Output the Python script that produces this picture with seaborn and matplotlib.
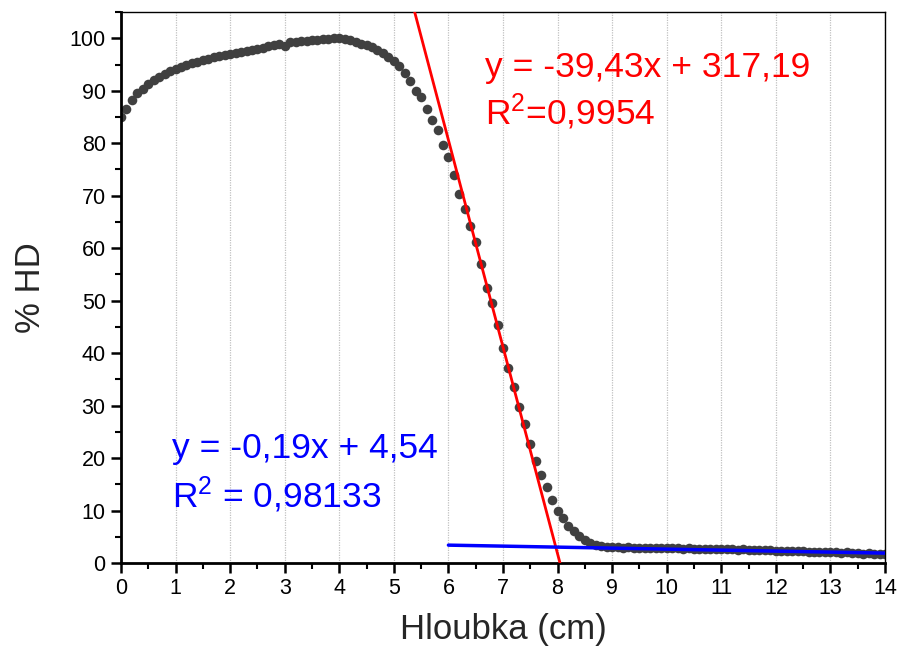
import numpy as np
import pandas as pd
import matplotlib
matplotlib.use("Agg")
import matplotlib.pyplot as plt
from matplotlib.ticker import MultipleLocator
import seaborn as sns

# ---- data ----
depth_cm = np.round(np.linspace(0, 14, 141), 1)
hd_percent = [
    85.0, 86.5, 88.3, 89.5, 90.4, 91.3, 92.0, 92.6, 93.2, 93.7,
    94.1, 94.5, 94.9, 95.2, 95.5, 95.8, 96.1, 96.4, 96.6, 96.8,
    97.0, 97.1, 97.3, 97.5, 97.7, 98.0, 98.2, 98.5, 98.8, 98.9,
    98.5, 99.2, 99.3, 99.4, 99.5, 99.6, 99.7, 99.8, 99.9, 100.0,
    100.1, 99.9, 99.6, 99.3, 99.0, 98.7, 98.4, 97.8, 97.1, 96.5,
    95.6, 94.7, 93.3, 91.9, 90.0, 88.8, 86.6, 84.5, 82.6, 79.6,
    77.3, 73.9, 70.4, 67.4, 64.2, 61.2, 57.0, 52.5, 49.6, 45.3,
    40.9, 37.1, 33.6, 29.7, 26.5, 22.7, 19.5, 16.8, 14.4, 12.0,
    10.0, 8.6, 7.1, 6.0, 5.1, 4.3, 3.8, 3.5, 3.3, 3.1,
    3.0, 3.0, 2.9, 3.0, 2.9, 2.9, 2.9, 2.8, 2.9, 2.8,
    2.8, 2.8, 2.8, 2.7, 2.8, 2.7, 2.7, 2.7, 2.6, 2.7,
    2.6, 2.6, 2.6, 2.5, 2.6, 2.5, 2.5, 2.4, 2.4, 2.4,
    2.3, 2.3, 2.3, 2.2, 2.2, 2.2, 2.1, 2.1, 2.1, 2.0,
    2.0, 2.0, 1.9, 2.0, 1.9, 1.9, 1.8, 1.9, 1.8, 1.8,
    1.8,
]

# linear fits (coefficients from the chart annotations)
red_slope, red_intercept = -39.43, 317.19
red_x_range = [5.3, 8.1]
blue_slope, blue_intercept = -0.19, 4.54
blue_x_range = [6.0, 14.0]

red_label_1 = "y = -39,43x + 317,19"
red_label_2 = "R$^2$=0,9954"
blue_label_1 = "y = -0,19x + 4,54"
blue_label_2 = "R$^2$ = 0,98133"

x_label = "Hloubka (cm)"
y_label = "% HD"

# ---- figure ----
sns.set_style("white")
plt.rcParams["font.family"] = ["Liberation Sans", "DejaVu Sans"]
plt.rcParams["mathtext.fontset"] = "custom"
plt.rcParams["mathtext.rm"] = "Liberation Sans"
plt.rcParams["mathtext.it"] = "Liberation Sans"

fig = plt.figure(figsize=(8.99, 6.61), dpi=100)
ax = fig.add_axes([0.1346, 0.1483, 0.9844 - 0.1346, 0.9818 - 0.1483])

df = pd.DataFrame({"depth": depth_cm, "hd": hd_percent})
sns.scatterplot(data=df, x="depth", y="hd", ax=ax, color="#404040",
                s=48, linewidth=0, zorder=2, legend=False)

red_df = pd.DataFrame({"x": red_x_range})
red_df["y"] = red_slope * red_df["x"] + red_intercept
sns.lineplot(data=red_df, x="x", y="y", ax=ax, color="#ff0000",
             linewidth=2.0, zorder=3)

blue_df = pd.DataFrame({"x": blue_x_range})
blue_df["y"] = blue_slope * blue_df["x"] + blue_intercept
sns.lineplot(data=blue_df, x="x", y="y", ax=ax, color="#0000ff",
             linewidth=2.5, zorder=3)

ax.set_xlim(0, 14)
ax.set_ylim(0, 105)
ax.xaxis.set_major_locator(MultipleLocator(1))
ax.xaxis.set_minor_locator(MultipleLocator(0.5))
ax.yaxis.set_major_locator(MultipleLocator(10))
ax.yaxis.set_minor_locator(MultipleLocator(5))

ax.grid(axis="x", which="major", color="#c0c0c0", linestyle=(0, (1, 1)),
        linewidth=0.9, zorder=0)
ax.set_axisbelow(True)

for side in ["left", "bottom"]:
    ax.spines[side].set_linewidth(2.0)
    ax.spines[side].set_color("black")
for side in ["top", "right"]:
    ax.spines[side].set_linewidth(1.0)
    ax.spines[side].set_color("black")

ax.tick_params(axis="both", which="major", direction="out", length=7,
               width=1.8, labelsize=15.5, colors="black", pad=4)
ax.tick_params(axis="both", which="minor", direction="out", length=4,
               width=1.5, colors="black")
ax.tick_params(bottom=True, left=True, which="both")

ax.set_xlabel(x_label, fontsize=25, labelpad=10)
ax.set_ylabel(y_label, fontsize=25, labelpad=16)

ax.text(6.67, 92.6, red_label_1, color="#ff0000", fontsize=25.5,
        va="baseline", ha="left")
ax.text(6.67, 83.6, red_label_2, color="#ff0000", fontsize=25.5,
        va="baseline", ha="left")
ax.text(0.93, 20.1, blue_label_1, color="#0000ff", fontsize=25.5,
        va="baseline", ha="left")
ax.text(0.93, 10.6, blue_label_2, color="#0000ff", fontsize=25.5,
        va="baseline", ha="left")

fig.savefig("out.png", dpi=100)
